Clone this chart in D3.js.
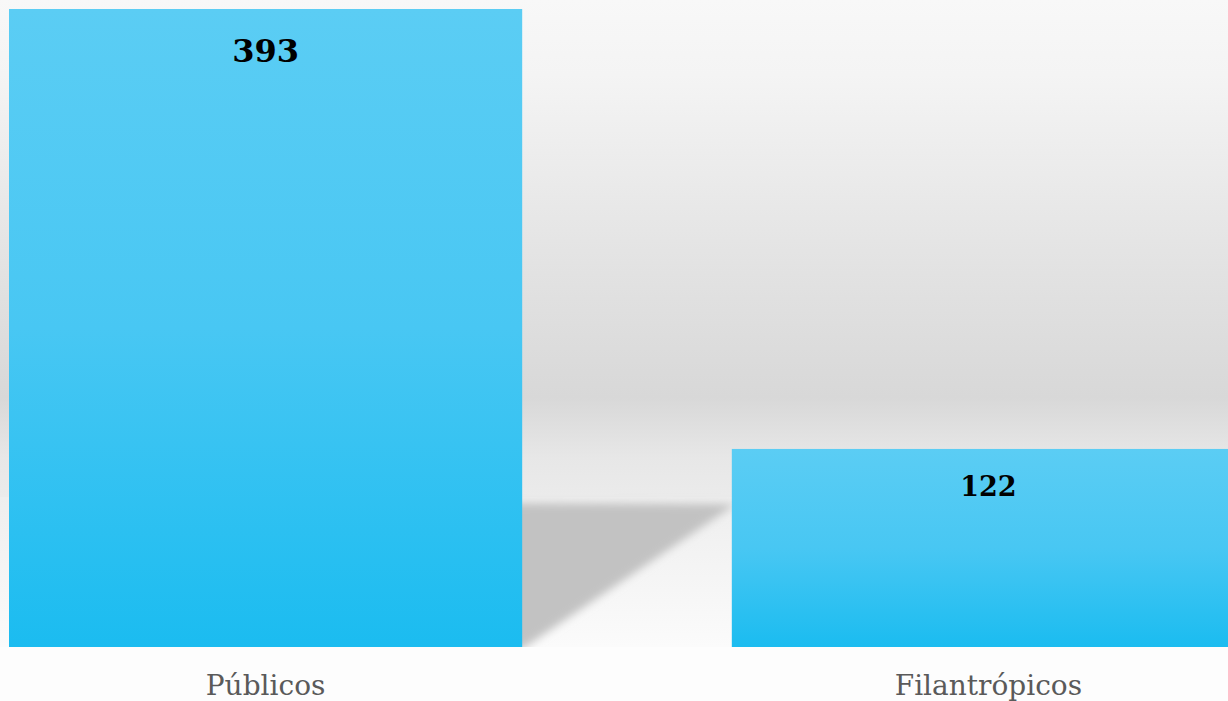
<!DOCTYPE html>
<html lang="pt">
  <head>
    <meta charset="UTF-8" />
    <title>Públicos x Filantrópicos</title>
    <style>
      body { margin: 0; background: #fdfdfd; overflow: hidden; }
      svg { display: block; }
    </style>
  </head>
  <body>
    <svg></svg>
    <script src="https://d3js.org/d3.v7.min.js"></script>
    <script>
      // data
      const categories = ["Públicos", "Filantrópicos"];
      const values = [393, 122];
      const labelSizes = [32, 27];

      const width = 1228;
      const height = 701;
      const baseY = 647;

      var svg = d3.select("svg").attr("width", width).attr("height", height);
      var defs = svg.append("defs");

      // background wall gradient
      var wall = defs.append("linearGradient").attr("id", "wall")
        .attr("x1", 0).attr("y1", 0).attr("x2", 0).attr("y2", 1);
      [[0, "#f8f8f8"], [0.15, "#f4f4f4"], [0.55, "#e2e2e2"], [0.8, "#d8d8d8"], [0.92, "#e7e7e7"], [1, "#ebebeb"]]
        .forEach(s => wall.append("stop").attr("offset", s[0]).attr("stop-color", s[1]));

      var floor = defs.append("linearGradient").attr("id", "floor")
        .attr("x1", 0).attr("y1", 0).attr("x2", 0).attr("y2", 1);
      [[0, "#eeeeee"], [1, "#fbfbfb"]]
        .forEach(s => floor.append("stop").attr("offset", s[0]).attr("stop-color", s[1]));

      var barGrad = defs.append("linearGradient").attr("id", "bar")
        .attr("x1", 0).attr("y1", 0).attr("x2", 0).attr("y2", 1);
      [[0, "#5bcdf4"], [0.5, "#48c7f3"], [1, "#1bbcf0"]]
        .forEach(s => barGrad.append("stop").attr("offset", s[0]).attr("stop-color", s[1]));

      defs.append("filter").attr("id", "blur")
        .attr("x", "-10%").attr("y", "-10%").attr("width", "120%").attr("height", "120%")
        .append("feGaussianBlur").attr("stdDeviation", 4);

      var x = d3.scaleBand().domain(categories).range([9, 1245]).paddingInner(0.29).paddingOuter(0);
      var y = d3.scaleLinear().domain([0, 393]).range([baseY, 9]);

      svg.append("rect").attr("x", 0).attr("y", 0).attr("width", width).attr("height", 497).attr("fill", "url(#wall)");
      svg.append("rect").attr("x", 0).attr("y", 497).attr("width", width).attr("height", baseY - 497).attr("fill", "url(#floor)");

      // floor shadow cast by the first bar
      var xs = x(categories[0]) + 20;
      var x0 = x(categories[0]) + x.bandwidth();
      var x1 = x(categories[1]);
      svg.append("path")
        .attr("d", "M" + xs + ",502L" + (x1 + 4) + ",504L" + x0 + "," + (baseY + 2) + "L" + xs + "," + (baseY + 2) + "Z")
        .attr("fill", "#c2c2c2")
        .attr("filter", "url(#blur)");

      svg.append("rect").attr("x", 0).attr("y", baseY).attr("width", width).attr("height", height - baseY).attr("fill", "#fdfdfd");

      // bars
      svg.selectAll(".bar").data(values).enter().append("rect")
        .attr("class", "bar")
        .attr("x", (d, i) => x(categories[i]))
        .attr("y", d => y(d))
        .attr("width", x.bandwidth())
        .attr("height", d => baseY - y(d))
        .attr("fill", "url(#bar)");

      // value labels
      svg.selectAll(".val").data(values).enter().append("text")
        .attr("class", "val")
        .attr("x", (d, i) => x(categories[i]) + x.bandwidth() / 2)
        .attr("y", (d, i) => y(d) + (i === 0 ? 53 : 47))
        .attr("text-anchor", "middle")
        .attr("font-family", "'DejaVu Serif', serif")
        .attr("font-weight", "bold")
        .attr("font-size", (d, i) => labelSizes[i] + "px")
        .attr("fill", "#000")
        .text(d => d);

      // category labels
      svg.selectAll(".cat").data(categories).enter().append("text")
        .attr("class", "cat")
        .attr("x", d => x(d) + x.bandwidth() / 2)
        .attr("y", 695)
        .attr("text-anchor", "middle")
        .attr("font-family", "'DejaVu Serif', serif")
        .attr("font-size", "28px")
        .attr("fill", "#5a5a5a")
        .text(d => d);
    </script>
  </body>
</html>
